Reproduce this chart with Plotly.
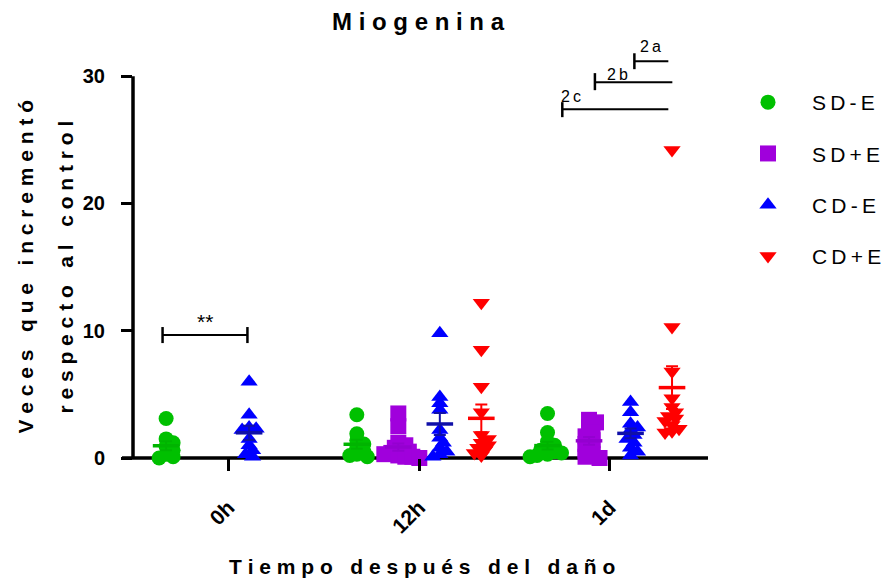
import numpy as np
import plotly.graph_objects as go

# ---------------- data ----------------
categories = ["0h", "12h", "1d"]
series_names = ["SD-E", "SD+E", "CD-E", "CD+E"]

sd_minus_e = [
    [3.1, 1.5, 1.2, 0.9, 0.6, 0.3, 0.1, 0.0],
    [3.4, 1.9, 1.4, 1.1, 0.8, 0.5, 0.3, 0.2, 0.1],
    [3.5, 2.0, 1.3, 1.0, 0.8, 0.6, 0.5, 0.4, 0.3, 0.2, 0.1],
]
sd_plus_e = [
    [],
    [3.5, 2.5, 1.2, 1.0, 0.8, 0.6, 0.5, 0.4, 0.3, 0.2, 0.1, 0.1, 0.0],
    [3.0, 2.8, 2.4, 2.0, 1.7, 1.4, 1.1, 0.8, 0.6, 0.3, 0.1, 0.0],
]
cd_minus_e = [
    [6.0, 3.4, 2.4, 2.3, 2.2, 1.5, 1.0, 0.6, 0.3, 0.1],
    [9.8, 4.8, 4.3, 3.8, 2.2, 1.6, 1.2, 0.8, 0.5, 0.3, 0.1],
    [4.4, 3.6, 2.7, 2.4, 2.2, 1.8, 1.5, 1.2, 0.8, 0.5, 0.2],
]
cd_plus_e = [
    [],
    [12.2, 8.5, 5.6, 3.6, 1.8, 1.5, 1.2, 1.0, 0.8, 0.6, 0.4, 0.2],
    [24.2, 10.3, 6.8, 4.7, 4.0, 3.6, 3.3, 3.1, 2.9, 2.6, 2.3, 2.1, 2.0],
]
all_series = [sd_minus_e, sd_plus_e, cd_minus_e, cd_plus_e]

y_ticks = [0, 10, 20, 30]
title_text = "Miogenina"
y_title_1 = "Veces que incrementó"
y_title_2 = "respecto al control"
x_title = "Tiempo después del daño"

# ---------------- styles ----------------
colors = ["#00C000", "#A000DC", "#0000FF", "#FF0000"]
mean_colors = ["#00B400", "#9400D0", "#1010A8", "#FF0000"]
symbols = ["circle", "square", "triangle-up", "triangle-down"]
sizes = [15, 16, 15, 15]

W, H = 893, 581
ML, MR, MT, MB = 133, 185, 38, 123
X_RANGE = [-0.5, 2.515]
Y_RANGE = [0, 33]
PW, PH = W - ML - MR, H - MT - MB
XPX = PW / (X_RANGE[1] - X_RANGE[0])
YPX = PH / (Y_RANGE[1] - Y_RANGE[0])
SERIES_STEP = 41.5 / XPX
FONT = "Liberation Sans, Arial, sans-serif"


def spaced(s, gap="\u00a0"):
    return (gap * 3).join(gap.join(w) for w in s.split(" "))


def swarm(values, min_dist=6.0, step=3.5):
    placed, offs = [], []
    cands = [0] + [s * i for i in range(1, 30) for s in (1, -1)]
    for v in values:
        yp = v * YPX
        xp = 0.0
        for c in cands:
            xp = c * step
            if all((xp - a) ** 2 + (yp - b) ** 2 >= min_dist ** 2 for a, b in placed):
                break
        placed.append((xp, yp))
        offs.append(xp / XPX)
    return offs


fig = go.Figure()

# points
for j, (name, data) in enumerate(zip(series_names, all_series)):
    xs, ys = [], []
    for i, vals in enumerate(data):
        center = i + (j - 1.5) * SERIES_STEP
        for v, o in zip(vals, swarm(vals)):
            xs.append(center + o)
            ys.append(v)
    fig.add_trace(go.Scatter(
        x=xs, y=ys, mode="markers", name=spaced(name, "\u2009"), legendgroup=name,
        marker=dict(symbol=symbols[j], size=sizes[j], color=colors[j], line=dict(width=0)),
        cliponaxis=False, showlegend=True,
    ))

# mean + SEM
for j, (name, data) in enumerate(zip(series_names, all_series)):
    mx, my, me = [], [], []
    for i, vals in enumerate(data):
        if len(vals) == 0:
            continue
        a = np.array(vals)
        mx.append(i + (j - 1.5) * SERIES_STEP)
        my.append(a.mean())
        me.append(a.std(ddof=1) / np.sqrt(len(a)))
    fig.add_trace(go.Scatter(
        x=mx, y=my, mode="markers", showlegend=False, legendgroup=name,
        marker=dict(symbol="line-ew", size=19, color=mean_colors[j],
                    line=dict(width=3.5, color=mean_colors[j])),
        error_y=dict(type="data", array=me, visible=True, color=mean_colors[j],
                     thickness=2, width=6),
        cliponaxis=False, hoverinfo="skip",
    ))

shapes = []
# axis lines (GraphPad style)
shapes.append(dict(type="line", xref="paper", yref="paper", x0=0, x1=0, y0=0, y1=30 / 33,
                   line=dict(color="black", width=3.5), layer="below"))
shapes.append(dict(type="line", xref="paper", yref="paper", x0=-11 / PW, x1=1, y0=0, y1=0,
                   line=dict(color="black", width=3.5), layer="below"))


def bracket(x0, x1, y, tick_lo, tick_hi, both=True):
    out = [dict(type="line", xref="x", yref="y", x0=x0, x1=x1, y0=y, y1=y,
                line=dict(color="black", width=2))]
    out.append(dict(type="line", xref="x", yref="y", x0=x0, x1=x0, y0=tick_lo, y1=tick_hi,
                    line=dict(color="black", width=2.5)))
    if both:
        out.append(dict(type="line", xref="x", yref="y", x0=x1, x1=x1, y0=tick_lo, y1=tick_hi,
                        line=dict(color="black", width=2.5)))
    return out


shapes += bracket(-0.345, 0.10, 9.66, 9.03, 10.29, both=True)
shapes += bracket(2.129, 2.307, 31.18, 30.55, 31.8, both=False)
shapes += bracket(1.922, 2.328, 29.53, 28.9, 30.24, both=False)
shapes += bracket(1.751, 2.307, 27.4, 26.78, 27.96, both=False)

annotations = [
    dict(text="**", x=-0.12, y=9.7, xref="x", yref="y", showarrow=False,
         yanchor="bottom", font=dict(size=21, color="black", family=FONT)),
    dict(text=spaced("2a", "\u2009"), x=2.213, y=32.36, xref="x", yref="y", showarrow=False,
         font=dict(size=16, color="black", family=FONT)),
    dict(text=spaced("2b", "\u2009"), x=2.04, y=30.16, xref="x", yref="y", showarrow=False,
         font=dict(size=16, color="black", family=FONT)),
    dict(text=spaced("2c", "\u2009"), x=1.799, y=28.43, xref="x", yref="y", showarrow=False,
         font=dict(size=16, color="black", family=FONT)),
    dict(text=spaced(y_title_1), x=(12 - ML) / PW, y=15, xref="paper", yref="y",
         textangle=-90, showarrow=False,
         font=dict(size=21, color="black", family=FONT, weight="bold")),
    dict(text=spaced(y_title_2), x=(52 - ML) / PW, y=15, xref="paper", yref="y",
         textangle=-90, showarrow=False,
         font=dict(size=21, color="black", family=FONT, weight="bold")),
    dict(text=spaced(x_title), x=(422 - ML) / PW, y=-(566 - 458) / PH, xref="paper",
         yref="paper", yanchor="middle", showarrow=False,
         font=dict(size=21, color="black", family=FONT, weight="bold")),
]

fig.update_layout(
    width=W, height=H,
    margin=dict(l=ML, r=MR, t=MT, b=MB, autoexpand=False),
    paper_bgcolor="white", plot_bgcolor="white",
    title=dict(text=spaced(title_text), x=418 / W, xanchor="center", y=1 - 22 / H,
               yanchor="middle", yref="container",
               font=dict(size=24, color="black", family=FONT, weight="bold")),
    xaxis=dict(range=X_RANGE, tickmode="array", tickvals=list(range(len(categories))),
               ticktext=categories, tickangle=-45, ticks="outside", ticklen=12, tickwidth=3,
               tickcolor="black", showline=False, showgrid=False, zeroline=False,
               tickfont=dict(size=21, color="black", family=FONT, weight="bold"),
               ticklabelstandoff=16),
    yaxis=dict(range=Y_RANGE, tickmode="array", tickvals=y_ticks, ticks="outside",
               ticklen=11, tickwidth=3, tickcolor="black", showline=False, showgrid=False,
               zeroline=False, ticklabelstandoff=12,
               tickfont=dict(size=20, color="black", family=FONT, weight="bold")),
    shapes=shapes, annotations=annotations,
    legend=dict(x=724 / W, xref="container", xanchor="left", y=1 - 82 / H, yref="container",
                yanchor="top", itemwidth=78, tracegroupgap=21, bgcolor="rgba(0,0,0,0)",
                font=dict(size=21, color="black", family=FONT)),
    showlegend=True,
)

fig.write_html("out.html")
